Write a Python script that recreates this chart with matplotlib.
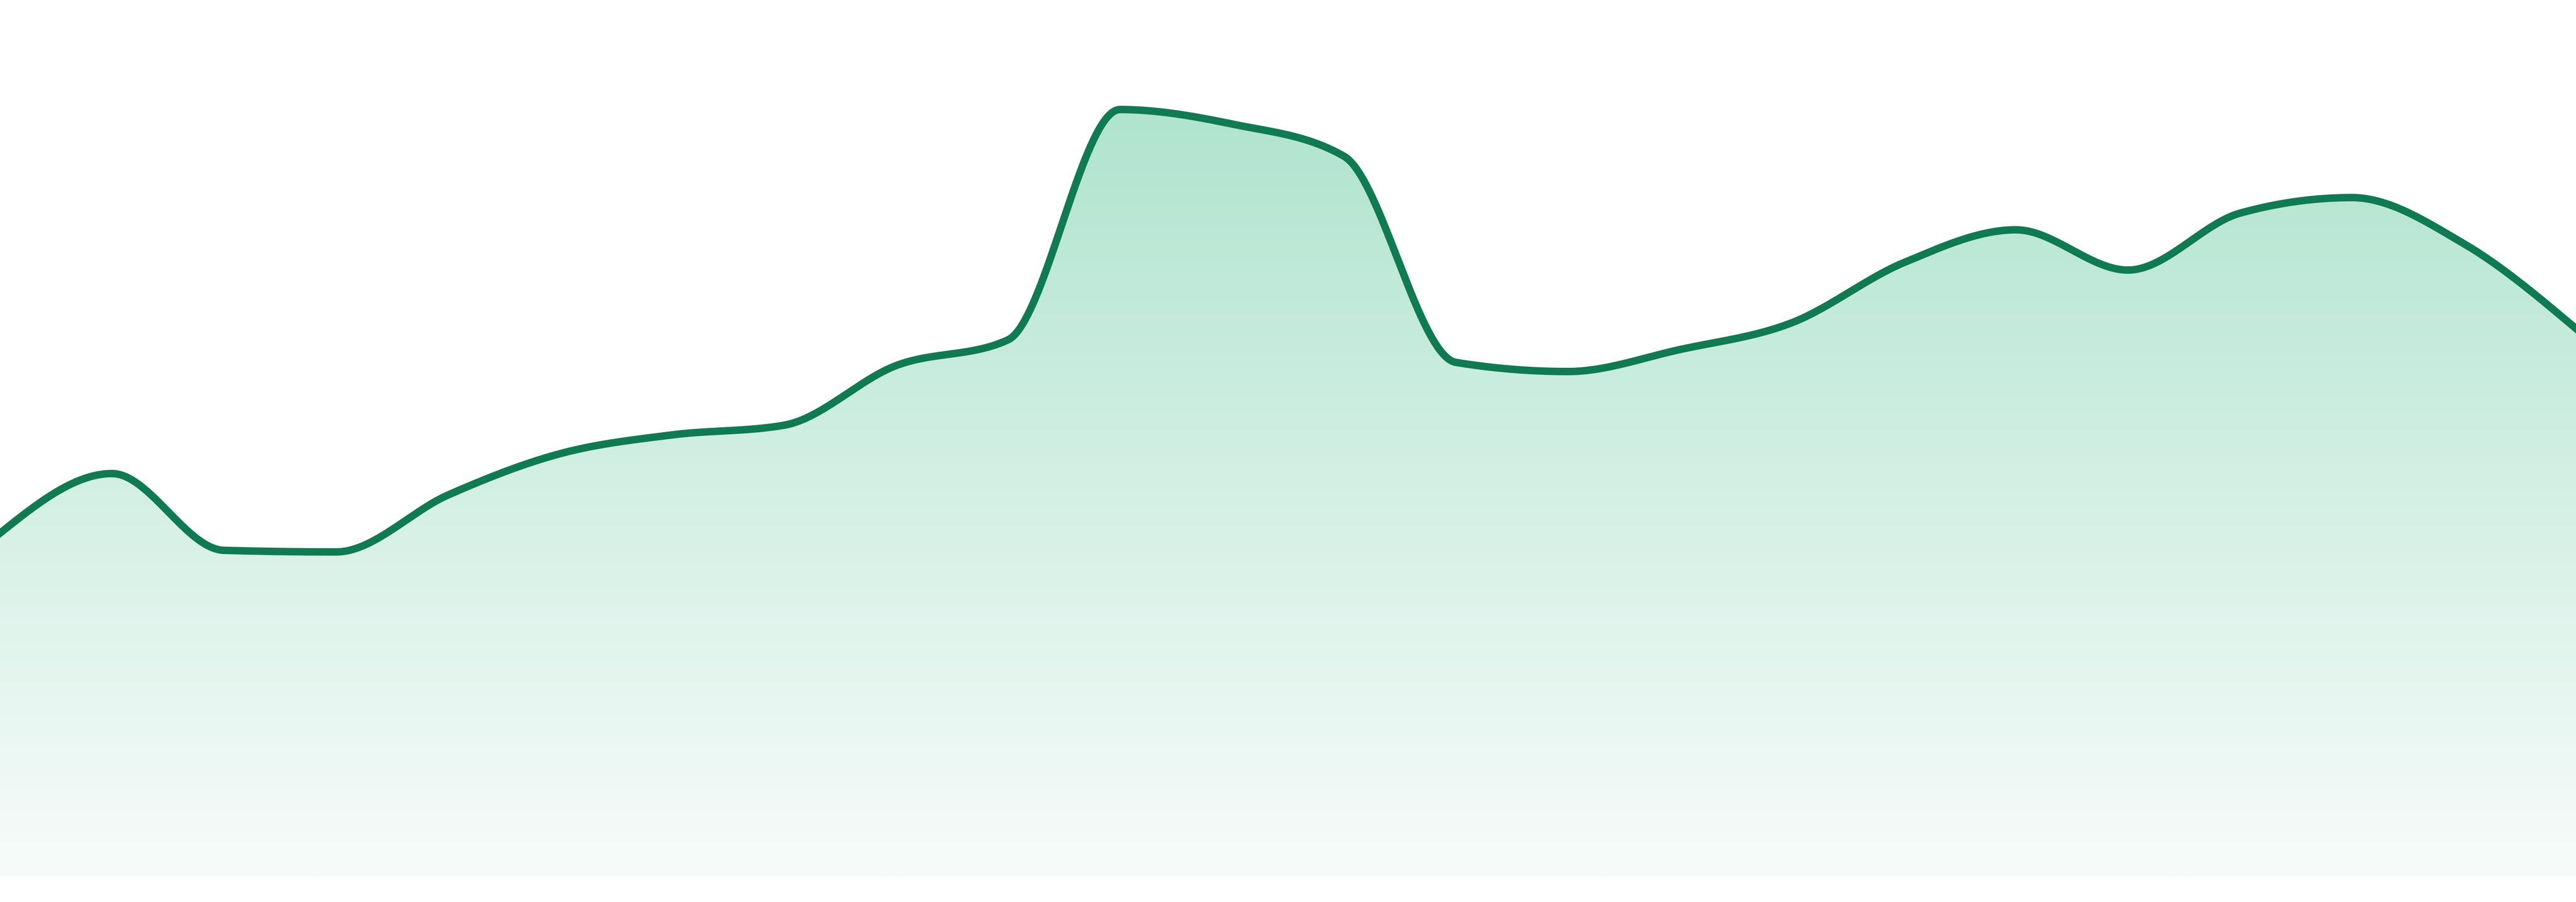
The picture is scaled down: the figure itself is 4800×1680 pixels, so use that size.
import numpy as np
import matplotlib
matplotlib.use("Agg")
import matplotlib.pyplot as plt
from matplotlib.patches import Polygon

# ---- data (arbitrary units) ----
periods = list(range(24))
values = [63.9, 75.0, 60.7, 60.4, 71.0, 78.7, 82.2, 84.0, 95.1, 99.9,
          142.8, 140.1, 134.1, 95.7, 94.0, 98.1, 103.1, 114.3, 120.4,
          112.9, 123.5, 126.4, 117.8, 102.0]

line_color = "#107a52"
fill_top = np.array([176, 228, 207]) / 255.0
fill_bottom = np.array([247, 252, 250]) / 255.0


def monotone_x(x, y, n=80):
    """Monotone cubic interpolation as in d3.curveMonotoneX."""
    x = np.asarray(x, float)
    y = np.asarray(y, float)
    m = len(x)
    t = np.zeros(m)
    sgn = lambda v: -1.0 if v < 0 else 1.0
    for i in range(1, m - 1):
        h0 = x[i] - x[i - 1]
        h1 = x[i + 1] - x[i]
        s0 = (y[i] - y[i - 1]) / h0
        s1 = (y[i + 1] - y[i]) / h1
        p = (s0 * h1 + s1 * h0) / (h0 + h1)
        t[i] = (sgn(s0) + sgn(s1)) * min(abs(s0), abs(s1), 0.5 * abs(p))
    h = x[1] - x[0]
    t[0] = (3 * (y[1] - y[0]) / h - t[1]) / 2
    h = x[-1] - x[-2]
    t[-1] = (3 * (y[-1] - y[-2]) / h - t[-2]) / 2
    xs, ys = [], []
    for i in range(m - 1):
        dx = x[i + 1] - x[i]
        p0 = np.array([x[i], y[i]])
        p1 = np.array([x[i] + dx / 3, y[i] + dx * t[i] / 3])
        p2 = np.array([x[i + 1] - dx / 3, y[i + 1] - dx * t[i + 1] / 3])
        p3 = np.array([x[i + 1], y[i + 1]])
        u = np.linspace(0, 1, n, endpoint=(i == m - 2))[:, None]
        pts = ((1 - u) ** 3) * p0 + 3 * ((1 - u) ** 2) * u * p1 \
            + 3 * (1 - u) * u ** 2 * p2 + u ** 3 * p3
        xs.append(pts[:, 0])
        ys.append(pts[:, 1])
    return np.concatenate(xs), np.concatenate(ys)


fig = plt.figure(figsize=(48, 16.8), dpi=100)
ax = fig.add_axes([0, 0, 1, 1])
ax.set_xlim(periods[0], periods[-1])
y_lo, y_hi = -4.8, 163.2
ax.set_ylim(y_lo, y_hi)
ax.axis("off")

cx, cy = monotone_x(periods, values)

# gradient fill under the curve
top_v = 142.8
grad_y = np.linspace(y_hi, 0, 400)
tt = np.clip((top_v - grad_y) / top_v, 0, 1)[:, None]
cols = fill_top * (1 - tt) + fill_bottom * tt
img = np.repeat(cols[:, None, :], 2, axis=1)
im = ax.imshow(img, extent=[periods[0], periods[-1], 0, y_hi],
               aspect="auto", origin="upper", interpolation="bilinear", zorder=1)
verts = np.column_stack([np.r_[cx, cx[-1], cx[0]], np.r_[cy, 0, 0]])
poly = Polygon(verts, closed=True, facecolor="none", edgecolor="none")
ax.add_patch(poly)
im.set_clip_path(poly)

ax.plot(cx, cy, color=line_color, lw=10, solid_joinstyle="round", zorder=3)

fig.savefig("out.png", dpi=100, facecolor="white")
